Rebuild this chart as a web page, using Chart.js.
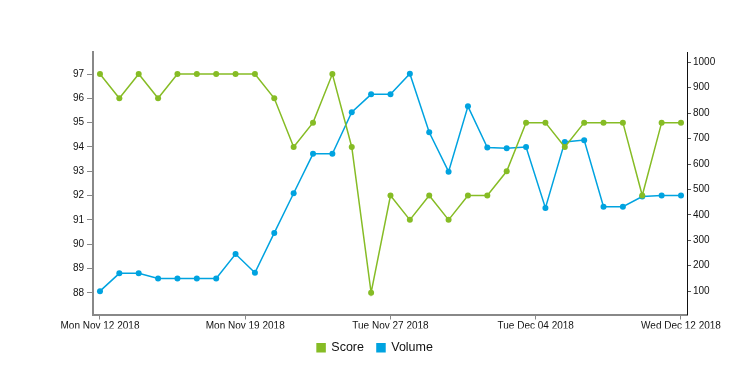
<!doctype html>
<html lang="en">
  <head>
    <meta charset="utf-8">
    <title>Score and Volume</title>
    <style>
      * { margin: 0; padding: 0; }
      body { background: #fff; }
      .chartBox { width: 750px; height: 388px; }
    </style>
  </head>
  <body>
    <div class="chartBox">
      <canvas id="myChart"></canvas>
    </div>
    <script src="https://cdn.jsdelivr.net/npm/chart.js"></script>
    <script>
      // one point per day, Nov 12 -> Dec 12 2018
      const dates = [
        'Mon Nov 12 2018', 'Tue Nov 13 2018', 'Wed Nov 14 2018', 'Thu Nov 15 2018', 'Fri Nov 16 2018',
        'Sat Nov 17 2018', 'Sun Nov 18 2018', 'Mon Nov 19 2018', 'Tue Nov 20 2018', 'Wed Nov 21 2018',
        'Thu Nov 22 2018', 'Fri Nov 23 2018', 'Sat Nov 24 2018', 'Sun Nov 25 2018', 'Mon Nov 26 2018',
        'Tue Nov 27 2018', 'Wed Nov 28 2018', 'Thu Nov 29 2018', 'Fri Nov 30 2018', 'Sat Dec 01 2018',
        'Sun Dec 02 2018', 'Mon Dec 03 2018', 'Tue Dec 04 2018', 'Wed Dec 05 2018', 'Thu Dec 06 2018',
        'Fri Dec 07 2018', 'Sat Dec 08 2018', 'Sun Dec 09 2018', 'Mon Dec 10 2018', 'Tue Dec 11 2018',
        'Wed Dec 12 2018'
      ];
      const score = [97, 96, 97, 96, 97, 97, 97, 97, 97, 96, 94, 95, 97, 94, 88, 92,
                     91, 92, 91, 92, 92, 93, 95, 95, 94, 95, 95, 95, 92, 95, 95];
      const volume = [100, 170, 170, 150, 150, 150, 150, 246, 172, 329, 485, 640, 640, 804, 874, 874,
                      955, 725, 570, 827, 665, 662, 667, 427, 687, 694, 432, 432, 472, 476, 476];

      // x ticks: day offsets from the first date, and their labels
      const xTickDays = [0, 7.5, 15, 22.5, 30];
      const xTickLabels = ['Mon Nov 12 2018', 'Mon Nov 19 2018', 'Tue Nov 27 2018', 'Tue Dec 04 2018', 'Wed Dec 12 2018'];
      const scoreTicks = [88, 89, 90, 91, 92, 93, 94, 95, 96, 97];
      const volumeTicks = [100, 200, 300, 400, 500, 600, 700, 800, 900, 1000];

      const green = '#86bc25';
      const blue = '#00a3e0';
      const fontFamily = "'Liberation Sans', Arial, sans-serif";
      const tickFont = { family: fontFamily, size: 10 };

      const data = {
        datasets: [
          {
            label: 'Score',
            data: score.map((v, i) => ({ x: i, y: v })),
            yAxisID: 'y',
            borderColor: green,
            backgroundColor: green,
            borderWidth: 1.5,
            pointRadius: 3,
            pointBorderWidth: 0,
            tension: 0
          },
          {
            label: 'Volume',
            data: volume.map((v, i) => ({ x: i, y: v })),
            yAxisID: 'y1',
            borderColor: blue,
            backgroundColor: blue,
            borderWidth: 1.5,
            pointRadius: 3,
            pointBorderWidth: 0,
            tension: 0
          }
        ]
      };

      const config = {
        type: 'line',
        data,
        options: {
          responsive: true,
          maintainAspectRatio: false,
          animation: false,
          layout: { padding: { top: 52, left: 0, right: 0, bottom: 24 } },
          plugins: {
            tooltip: { enabled: false },
            legend: {
              position: 'bottom',
              labels: {
                boxWidth: 8,
                boxHeight: 8,
                padding: 13,
                color: '#111',
                font: { family: fontFamily, size: 12.5 }
              }
            }
          },
          scales: {
            x: {
              type: 'linear',
              min: -0.36,
              max: 30.31,
              afterFit: s => { s.height = 14; },
              afterBuildTicks: s => { s.ticks = xTickDays.map(v => ({ value: v })); },
              ticks: {
                color: '#111',
                font: tickFont,
                padding: 1,
                maxRotation: 0,
                autoSkip: false,
                callback: (v) => xTickLabels[xTickDays.indexOf(v)]
              },
              grid: { drawOnChartArea: false, tickLength: 5, color: '#888' },
              border: { color: '#888', width: 2 }
            },
            y: {
              position: 'left',
              min: 87.105,
              max: 97.907,
              afterFit: s => { s.width = 93; },
              afterBuildTicks: s => { s.ticks = scoreTicks.map(v => ({ value: v })); },
              ticks: { color: '#111', font: tickFont, padding: 3, callback: v => String(v) },
              grid: { drawOnChartArea: false, tickLength: 6, color: '#888' },
              border: { color: '#888', width: 2 }
            },
            y1: {
              position: 'right',
              min: 8.2,
              max: 1040.6,
              afterFit: s => { s.width = 63; },
              afterBuildTicks: s => { s.ticks = volumeTicks.map(v => ({ value: v })); },
              ticks: { color: '#111', font: tickFont, padding: 2, callback: v => String(v) },
              grid: { drawOnChartArea: false, tickLength: 4, color: '#555' },
              border: { color: '#111', width: 1 }
            }
          }
        }
      };

      const myChart = new Chart(document.getElementById('myChart'), config);
    </script>
  </body>
</html>
